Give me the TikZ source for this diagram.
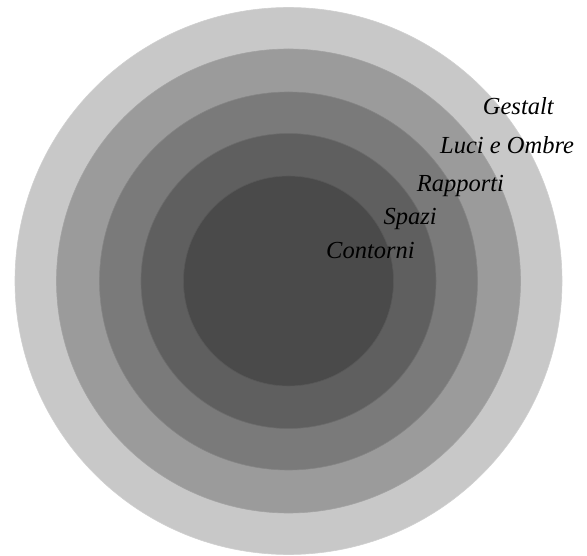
\documentclass[tikz,border=0pt]{standalone}
\usepackage{fontspec}
\setmainfont{Liberation Serif}
\definecolor{ringA}{RGB}{200,200,200}
\definecolor{ringB}{RGB}{155,155,155}
\definecolor{ringC}{RGB}{122,122,122}
\definecolor{ringD}{RGB}{95,95,95}
\definecolor{ringE}{RGB}{74,74,74}
\begin{document}
\begin{tikzpicture}[x=1pt,y=1pt,
  ring/.style={line width=0.6pt},
  lbl/.style={anchor=base west,inner sep=0pt,font=\fontsize{24.5}{29}\selectfont\itshape,text=black}]
\useasboundingbox (0,0) rectangle (587,555);
\coordinate (c) at (288.5,274);
\fill[ringA,draw=ringA!85!white,ring] (c) circle[radius=273.5];
\fill[ringB,draw=ringB!92!white,ring] (c) circle[radius=232];
\fill[ringC,draw=ringC!92!white,ring] (c) circle[radius=189];
\fill[ringD,draw=ringD!92!white,ring] (c) circle[radius=147.5];
\fill[ringE,draw=ringE!92!white,ring] (c) circle[radius=105];
\node[lbl] (gestalt) at (482.7,440) {Gestalt};
\node[lbl] (luci) at (440,401.5) {Luci e Ombre};
\node[lbl] (rapporti) at (416.7,363.3) {Rapporti};
\node[lbl] (spazi) at (383.3,330) {Spazi};
\node[lbl] (contorni) at (326,296) {Contorni};
\end{tikzpicture}
\end{document}
